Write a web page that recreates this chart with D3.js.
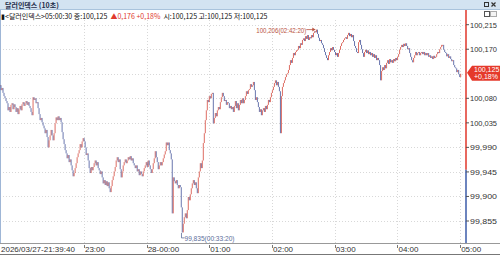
<!DOCTYPE html>
<html>
<head>
<meta charset="utf-8">
<script src="https://cdn.jsdelivr.net/npm/d3@7"></script>
<style>
  body { margin: 0; background: #fff; }
  svg { display: block; font-family: "Noto Sans CJK KR", "Liberation Sans", sans-serif; }
</style>
</head>
<body>
<svg id="chart" width="500" height="255"></svg>
<script>
// 달러인덱스 10초봉, 한 점 = 약 1분 구간의 종가
const titleText = "달러인덱스 (10초)";
const tStart = new Date(2026, 2, 27, 21, 39, 40);
const tEnd = new Date(2026, 2, 28, 5, 0, 30);
const tDomainEnd = new Date(2026, 2, 28, 5, 5, 35);

const closes = [
  100.104, 100.095, 100.099, 100.090, 100.084, 100.080, 100.075, 100.071, 100.058, 100.064,
  100.055, 100.068, 100.071, 100.060, 100.069, 100.064, 100.055, 100.062, 100.051, 100.060,
  100.066, 100.058, 100.069, 100.073, 100.066, 100.071, 100.075, 100.068, 100.073, 100.066,
  100.062, 100.055, 100.049, 100.082, 100.077, 100.080, 100.071, 100.073, 100.062, 100.051,
  100.040, 100.044, 100.036, 100.030, 100.025, 100.016, 100.022, 100.009, 99.990, 100.003,
  100.012, 100.022, 100.012, 100.003, 100.016, 100.034, 100.045, 100.040, 100.047, 100.040,
  100.044, 100.036, 100.018, 100.005, 99.996, 99.985, 99.979, 99.970, 99.976, 99.963,
  99.968, 99.957, 99.948, 99.937, 99.943, 99.952, 99.961, 99.972, 99.979, 99.985,
  99.996, 99.990, 100.001, 100.007, 100.001, 99.990, 99.976, 99.979, 99.966, 99.952,
  99.943, 99.954, 99.948, 99.954, 99.961, 99.966, 99.957, 99.963, 99.952, 99.948,
  99.941, 99.946, 99.935, 99.924, 99.930, 99.921, 99.928, 99.919, 99.926, 99.915,
  99.908, 99.919, 99.930, 99.937, 99.946, 99.954, 99.966, 99.972, 99.963, 99.968,
  99.950, 99.935, 99.946, 99.957, 99.963, 99.968, 99.961, 99.966, 99.972, 99.968,
  99.974, 99.966, 99.970, 99.961, 99.957, 99.952, 99.957, 99.946, 99.950, 99.939,
  99.946, 99.941, 99.937, 99.946, 99.952, 99.957, 99.963, 99.954, 99.966, 99.957,
  99.950, 99.943, 99.950, 99.961, 99.970, 99.983, 99.972, 99.963, 99.950, 99.957,
  99.963, 99.957, 99.963, 99.970, 99.977, 99.983, 99.999, 99.994, 99.999, 99.985,
  99.979, 99.968, 99.869, 99.935, 99.928, 99.924, 99.930, 99.921, 99.915, 99.921,
  99.917, 99.880, 99.834, 99.850, 99.862, 99.869, 99.860, 99.875, 99.899, 99.893,
  99.904, 99.915, 99.924, 99.930, 99.921, 99.926, 99.915, 99.906, 99.935, 99.946,
  99.961, 99.952, 99.966, 99.998, 100.016, 100.040, 100.058, 100.077, 100.073, 100.084,
  100.080, 100.088, 100.090, 100.034, 100.044, 100.053, 100.047, 100.058, 100.064, 100.060,
  100.073, 100.082, 100.090, 100.084, 100.075, 100.077, 100.068, 100.073, 100.071, 100.062,
  100.066, 100.060, 100.064, 100.055, 100.066, 100.075, 100.062, 100.071, 100.058, 100.068,
  100.077, 100.071, 100.080, 100.071, 100.077, 100.084, 100.093, 100.088, 100.095, 100.097,
  100.106, 100.101, 100.104, 100.110, 100.095, 100.077, 100.082, 100.073, 100.064, 100.055,
  100.060, 100.049, 100.058, 100.062, 100.055, 100.066, 100.060, 100.068, 100.077, 100.073,
  100.082, 100.090, 100.095, 100.101, 100.108, 100.113, 100.104, 100.110, 100.101, 100.093,
  100.016, 100.084, 100.101, 100.108, 100.113, 100.119, 100.124, 100.126, 100.132, 100.141,
  100.150, 100.145, 100.154, 100.163, 100.159, 100.165, 100.168, 100.169, 100.176, 100.172,
  100.181, 100.178, 100.187, 100.190, 100.185, 100.194, 100.189, 100.196, 100.187, 100.192,
  100.190, 100.196, 100.192, 100.200, 100.203, 100.201, 100.206, 100.198, 100.191, 100.185,
  100.187, 100.181, 100.178, 100.172, 100.165, 100.159, 100.154, 100.150, 100.159, 100.165,
  100.172, 100.168, 100.174, 100.169, 100.165, 100.159, 100.163, 100.156, 100.163, 100.169,
  100.176, 100.181, 100.183, 100.187, 100.190, 100.192, 100.189, 100.196, 100.200, 100.194,
  100.198, 100.192, 100.196, 100.185, 100.176, 100.172, 100.165, 100.163, 100.183, 100.187,
  100.178, 100.170, 100.163, 100.156, 100.165, 100.169, 100.163, 100.168, 100.161, 100.165,
  100.159, 100.163, 100.156, 100.161, 100.154, 100.159, 100.150, 100.154, 100.150, 100.141,
  100.113, 100.130, 100.137, 100.132, 100.141, 100.135, 100.145, 100.150, 100.143, 100.152,
  100.146, 100.150, 100.145, 100.152, 100.148, 100.154, 100.150, 100.156, 100.161, 100.169,
  100.174, 100.178, 100.174, 100.180, 100.176, 100.181, 100.176, 100.170, 100.172, 100.163,
  100.156, 100.150, 100.146, 100.154, 100.159, 100.165, 100.159, 100.163, 100.165, 100.159,
  100.163, 100.165, 100.161, 100.165, 100.159, 100.163, 100.159, 100.163, 100.156, 100.159,
  100.154, 100.157, 100.152, 100.158, 100.154, 100.156, 100.161, 100.165, 100.163, 100.170,
  100.174, 100.178, 100.178, 100.169, 100.165, 100.163, 100.157, 100.161, 100.154, 100.157,
  100.152, 100.148, 100.150, 100.141, 100.137, 100.135, 100.128, 100.132, 100.124, 100.119,
  100.125
];

const yTicks = [99.855, 99.900, 99.945, 99.990, 100.035, 100.080, 100.125, 100.170, 100.215];
const xTicks = [
  new Date(2026, 2, 27, 23, 0), new Date(2026, 2, 28, 0, 0), new Date(2026, 2, 28, 1, 0),
  new Date(2026, 2, 28, 2, 0), new Date(2026, 2, 28, 3, 0), new Date(2026, 2, 28, 4, 0),
  new Date(2026, 2, 28, 5, 0)
];
const xTickLabels = ["23:00", "28-00:00", "01:00", "02:00", "03:00", "04:00", "05:00"];
const firstLabel = "2026/03/27-21:39:40";

const last = 100.125, change = 0.176, changePct = 0.18;
const prevClose = 99.949;
const highPoint = { value: 100.206, time: "02:42:20", at: new Date(2026, 2, 28, 2, 42, 20) };
const lowPoint = { value: 99.835, time: "00:33:20", at: new Date(2026, 2, 28, 0, 33, 20) };

const kr = (v, d) => v.toFixed(d).replace(".", ",");

const svg = d3.select("#chart");
const plotTop = 10, plotBottom = 243, axisX = 466;
const numFont = "'Liberation Sans', sans-serif";

const x = d3.scaleTime().domain([tStart, tDomainEnd]).range([0, axisX]);
const y = d3.scaleLinear().domain([99.855, 100.215]).range([221, 24.7]);
// 인덱스 -> 시각 (숫자로 보간해서 Date 객체 공유 문제를 피함)
const idxTime = d3.scaleLinear().domain([0, closes.length - 1]).range([+tStart, +tEnd]);

// 제목 표시줄
svg.append("rect").attr("x", 0).attr("y", 0).attr("width", 500).attr("height", 10)
  .attr("fill", "#d3e3f1");
svg.append("line").attr("x1", 0).attr("x2", 500).attr("y1", 9.5).attr("y2", 9.5)
  .attr("stroke", "#a9c3dc");
svg.append("text").attr("x", 5).attr("y", 7.5).attr("font-size", 7).attr("font-weight", "bold")
  .attr("fill", "#1e2d4a").text(titleText);
svg.append("rect").attr("x", 484.5).attr("y", 2.5).attr("width", 4).attr("height", 4)
  .attr("fill", "none").attr("stroke", "#333");
svg.append("path").attr("d", "M491.5,2.5 l4,4 M495.5,2.5 l-4,4")
  .attr("stroke", "#333").attr("stroke-width", 1.2);

// 그리드
const grid = svg.append("g").attr("stroke", "#d8d8d8").attr("stroke-dasharray", "1,2");
grid.selectAll(".gy").data(yTicks).join("line")
  .attr("x1", 0).attr("x2", axisX).attr("y1", d => Math.round(y(d)) + 0.5).attr("y2", d => Math.round(y(d)) + 0.5);
grid.selectAll(".gx").data(xTicks).join("line")
  .attr("x1", d => Math.round(x(d)) + 0.5).attr("x2", d => Math.round(x(d)) + 0.5)
  .attr("y1", plotTop + 10).attr("y2", plotBottom);

// 좌측 테두리
svg.append("line").attr("x1", 0.5).attr("x2", 0.5).attr("y1", plotTop).attr("y2", plotBottom)
  .attr("stroke", "#9fb6d6");

// 봉
const candles = closes.map((c, i) => ({ t: idxTime(i), o: i ? closes[i - 1] : c, c }));
svg.append("g").selectAll("rect").data(candles).join("rect")
  .attr("x", d => x(d.t) - 0.5)
  .attr("width", 1)
  .attr("y", d => y(Math.max(d.o, d.c)))
  .attr("height", d => Math.max(1, Math.abs(y(d.o) - y(d.c))))
  .attr("fill", d => d.c >= d.o ? "#d4483c" : "#44549a")
  .attr("opacity", 0.8);

// 고가/저가 표시
const hx = x(highPoint.at), hy = y(highPoint.value);
svg.append("line").attr("x1", hx - 10).attr("x2", hx - 1).attr("y1", hy).attr("y2", hy)
  .attr("stroke", "#b9523e").attr("stroke-width", 0.8);
svg.append("path").attr("d", `M${hx - 1},${hy} l-3,-2 v4 z`).attr("fill", "#b9523e");
svg.append("text").attr("x", hx - 10).attr("y", hy + 3).attr("text-anchor", "end")
  .attr("font-size", 8).attr("font-family", numFont).attr("fill", "#b9523e")
  .attr("textLength", 50).attr("lengthAdjust", "spacingAndGlyphs")
  .text(`${kr(highPoint.value, 3)}(${highPoint.time})`);

const lx = x(lowPoint.at), ly = y(lowPoint.value);
svg.append("path").attr("d", `M${lx},${ly + 1} V${ly + 6} H${lx + 3}`)
  .attr("fill", "none").attr("stroke", "#5a6d9a").attr("stroke-width", 0.8);
svg.append("text").attr("x", lx + 3).attr("y", ly + 9)
  .attr("font-size", 8).attr("font-family", numFont).attr("fill", "#5a6d9a")
  .attr("textLength", 50).attr("lengthAdjust", "spacingAndGlyphs")
  .text(`${kr(lowPoint.value, 3)}(${lowPoint.time})`);

// 정보줄 (조각을 실제 폭대로 이어 붙임)
const infoParts = [
  { fill: "#111", text: "▮<달러인덱스>05:00:30 종:" + kr(last, 3) },
  { fill: "#e0392c", text: "▲" + kr(change, 3) + " +" + kr(changePct, 2) + "%" },
  { fill: "#111", text: `시:${kr(last, 3)} 고:${kr(last, 3)} 저:${kr(last, 3)}` }
];
let infoX = 1;
infoParts.forEach(p => {
  const t = svg.append("text").attr("x", infoX).attr("y", 18.5).attr("font-size", 7)
    .attr("fill", p.fill).text(p.text);
  infoX += t.node().getComputedTextLength() + 3;
});

// 오른쪽 작은 아이콘
svg.append("rect").attr("x", 484.5).attr("y", 11.5).attr("width", 5).attr("height", 5)
  .attr("fill", "#fff").attr("stroke", "#555");
svg.append("rect").attr("x", 490.5).attr("y", 11.5).attr("width", 6).attr("height", 5)
  .attr("fill", "#f4f4f4").attr("stroke", "#aaa");

// 가격축
const yPrev = y(prevClose);
svg.append("line").attr("x1", axisX).attr("x2", axisX).attr("y1", plotTop).attr("y2", yPrev)
  .attr("stroke", "#e0362a").attr("stroke-width", 1.5);
svg.append("line").attr("x1", axisX).attr("x2", axisX).attr("y1", yPrev).attr("y2", plotBottom)
  .attr("stroke", "#3b5ba8").attr("stroke-width", 1.5);
const yl = svg.append("g").attr("transform", `translate(${axisX},0)`);
yl.selectAll("line").data(yTicks.filter(d => d !== last)).join("line")
  .attr("x1", 0).attr("x2", 3).attr("y1", d => y(d)).attr("y2", d => y(d)).attr("stroke", "#555");
yl.selectAll("text").data(yTicks.filter(d => d !== last)).join("text")
  .attr("x", 4).attr("y", d => y(d) + 3).attr("font-size", 8).attr("font-family", numFont)
  .attr("fill", "#333").attr("textLength", 27).attr("lengthAdjust", "spacingAndGlyphs")
  .text(d => kr(d, 3));

// 현재가 박스
const cy = y(last);
svg.append("path")
  .attr("d", `M${axisX + 1},${cy - 1} L${axisX + 6},${cy - 8} H500 V${cy + 7} H${axisX + 6} Z`)
  .attr("fill", "#e5392b");
svg.append("text").attr("x", axisX + 8).attr("y", cy - 1.5).attr("font-size", 7)
  .attr("font-family", numFont).attr("fill", "#fff").text(kr(last, 3));
svg.append("text").attr("x", axisX + 8).attr("y", cy + 5.5).attr("font-size", 7)
  .attr("font-family", numFont).attr("fill", "#fff").text("+" + kr(changePct, 2) + "%");

// 시간축
svg.append("line").attr("x1", 0).attr("x2", 500).attr("y1", plotBottom + 0.5).attr("y2", plotBottom + 0.5)
  .attr("stroke", "#999");
svg.append("line").attr("x1", 0).attr("x2", 500).attr("y1", 254.5).attr("y2", 254.5)
  .attr("stroke", "#777");
const xl = svg.append("g");
xl.selectAll("line").data(xTicks).join("line")
  .attr("x1", d => Math.round(x(d)) + 0.5).attr("x2", d => Math.round(x(d)) + 0.5)
  .attr("y1", plotBottom + 2).attr("y2", plotBottom + 5).attr("stroke", "#777");
xl.selectAll("text").data(xTicks).join("text")
  .attr("x", d => x(d) + 1).attr("y", 252).attr("font-size", 8).attr("font-family", numFont)
  .attr("fill", "#333")
  .text((d, i) => xTickLabels[i]);
svg.append("text").attr("x", 1).attr("y", 252).attr("font-size", 8).attr("font-family", numFont)
  .attr("fill", "#333").text(firstLabel);
</script>
</body>
</html>
